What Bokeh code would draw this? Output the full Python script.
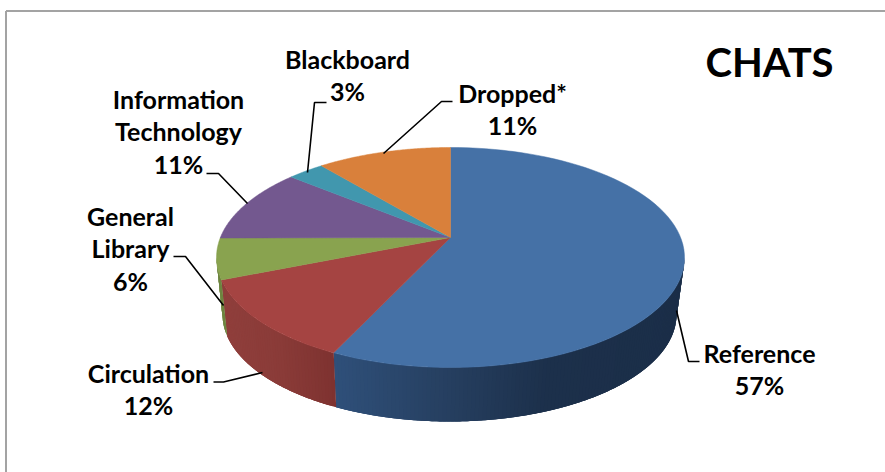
import numpy as np
from bokeh.plotting import figure
from bokeh.models import Range1d
from bokeh.core.properties import value
from bokeh.embed import file_html
from bokeh.resources import INLINE

# ---- data ----
categories = ["Reference", "Circulation", "General Library", "Information Technology", "Blackboard", "Dropped*"]
shares = [57, 12, 6, 11, 3, 11]
labels = ["Reference\n57%", "Circulation\n12%", "General\nLibrary\n6%",
          "Information\nTechnology\n11%", "Blackboard\n3%", "Dropped*\n11%"]
top_colors = ["#4571A6", "#A54442", "#89A34F", "#73588F", "#4197AE", "#D9803B"]
# wall shading: colour stops along x, per slice
wall_stops = [
    ([333, 450, 550, 690], ["#2F507A", "#263F60", "#1C304B", "#1B2E48"]),
    ([215, 280, 335], ["#903F3C", "#8A3B38", "#7E3230"]),
    ([215, 230], ["#6E8540", "#6E8540"]),
    ([215, 230], ["#5C4673", "#5C4673"]),
    ([215, 230], ["#34798B", "#34798B"]),
    ([215, 230], ["#AE662F", "#AE662F"]),
]

# ---- layout (reference pixels) ----
W, H = 885, 472
TOP = dict(cx=450.0, cy=257.0, rx=234.0, ry=110.0)
BOT = dict(cx=449.0, cy=314.0, rx=227.0, ry=107.0)
K = 0.836   # perspective of the tilted disc
apex = (450.0, 237.0)

label_xy = [(759, 352), (148, 372), (130, 215), (178, 98), (347, 58), (512, 92)]
leaders = [
    ([676, 688, 699], [310, 361, 361]),
    ([262, 223, 213], [372, 381.5, 381.5]),
    ([223, 185, 173], [305, 256, 256]),
    ([247, 218, 206], [203, 173, 173]),
    ([307, 314, 326], [172, 102, 102]),
    ([383, 441, 452], [153, 101, 101]),
]
FONT = "Lato"
LINE_H = 32.5

p = figure(width=W, height=H, output_backend="svg", toolbar_location=None,
           x_range=Range1d(0, W), y_range=Range1d(H, 0),
           min_border=0, outline_line_color=None, background_fill_color="white",
           border_fill_color="white")
p.axis.visible = False
p.grid.visible = False


def persp(phi):
    """true angle clockwise from the top -> angle on the drawn ellipse"""
    phi = np.asarray(phi, float)
    psi = 2 * np.pi - phi
    half = np.arctan(K * np.tan(psi / 2))
    half = np.where(half < 0, half + np.pi, half)
    return 2 * np.pi - 2 * half


def pt(e, th):
    return e["cx"] + e["rx"] * np.sin(th), e["cy"] - e["ry"] * np.cos(th)


def hex2rgb(h):
    return [int(h[i:i + 2], 16) for i in (1, 3, 5)]


def shade(stops, x):
    xs, cols = stops
    rgb = np.array([hex2rgb(c) for c in cols], float)
    return "#%02x%02x%02x" % tuple(int(round(np.interp(x, xs, rgb[:, k]))) for k in range(3))


fr = np.cumsum([0] + shares) / sum(shares)
fr[-1] = 1.0

# side walls: front half only, painted strip over strip so no seams show
for i in range(len(shares)):
    a = np.clip(float(persp(fr[i] * 2 * np.pi + 1e-9)), np.pi / 2, 3 * np.pi / 2)
    b = np.clip(float(persp(min(fr[i + 1] * 2 * np.pi, 2 * np.pi - 1e-9))), np.pi / 2, 3 * np.pi / 2)
    if b <= a:
        continue
    n = max(2, int((b - a) / np.radians(1.0)))
    edges = np.linspace(a, b, n + 1)
    xs, ys, cols = [], [], []
    for j in range(n):
        th = np.linspace(edges[j], min(edges[j] + (b - a) / n + np.radians(2), b), 6)
        tx, ty = pt(TOP, th)
        bx, by = pt(BOT, th[::-1])
        xs.append(np.r_[tx, bx].tolist())
        ys.append(np.r_[ty, by].tolist())
        cols.append(shade(wall_stops[i], float(tx[0])))
    p.patches(xs, ys, fill_color=cols, line_color=None)

# top faces
for i in range(len(shares)):
    phis = np.clip(np.linspace(fr[i] * 2 * np.pi, fr[i + 1] * 2 * np.pi, 80), 1e-6, 2 * np.pi - 1e-6)
    tx, ty = pt(TOP, persp(phis))
    p.patch(np.r_[apex[0], tx], np.r_[apex[1], ty], fill_color=top_colors[i],
            line_color=top_colors[i], line_width=0.5)

# frame
p.line([5.5, 5.5], [472, 10.5], line_color="#A3A3A3", line_width=2)
p.line([5.5, 885], [10.5, 10.5], line_color="#A3A3A3", line_width=2)

# leaders
for lx, ly in leaders:
    p.line(lx, ly, line_color="black", line_width=1.6)

# labels
for (lx, ly), txt in zip(label_xy, labels):
    rows = txt.split("\n")
    ys = [ly + LINE_H * k for k in range(len(rows))]
    p.text([lx] * len(rows), ys, text=rows, text_font=value(FONT), text_font_style="bold",
           text_font_size="25px", text_color="black", text_align="center", text_baseline="middle")

p.text([769], [61], text=["CHATS"], text_font=value(FONT), text_font_style="bold",
       text_font_size="40px", text_color="black", text_align="center", text_baseline="middle")

html = file_html(p, INLINE)
html = html.replace("<head>", "<head><style>html,body{margin:0;padding:0;overflow:hidden}</style>", 1)
open("out.html", "w").write(html)
